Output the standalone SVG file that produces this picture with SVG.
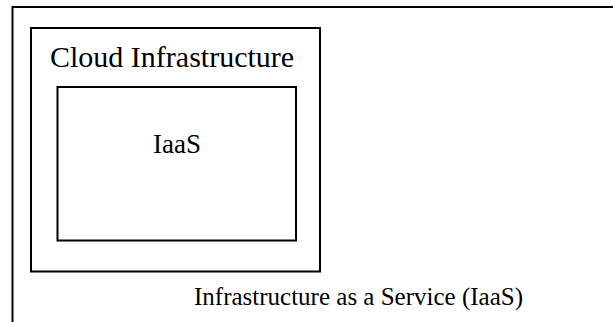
<svg xmlns="http://www.w3.org/2000/svg" width="613" height="322" viewBox="0 0 613 322">
<rect width="613" height="322" fill="#fff"/>
<g id="outer">
<rect x="12.5" y="7" width="620" height="330" fill="none" stroke="#000" stroke-width="2"/>
<text x="194" y="305" font-size="25" font-family="Times New Roman">Infrastructure as a Service (IaaS)</text>
</g>
<g id="cloud">
<rect x="31" y="28" width="289" height="243.5" fill="none" stroke="#000" stroke-width="2"/>
<text x="50" y="67" font-size="30" font-family="Times New Roman">Cloud Infrastructure</text>
</g>
<g id="iaas">
<rect x="57.5" y="87" width="238.5" height="153.5" fill="none" stroke="#000" stroke-width="2"/>
<text x="153" y="153" font-size="27" font-family="Times New Roman">IaaS</text>
</g>
<g id="connectors"></g>
</svg>
